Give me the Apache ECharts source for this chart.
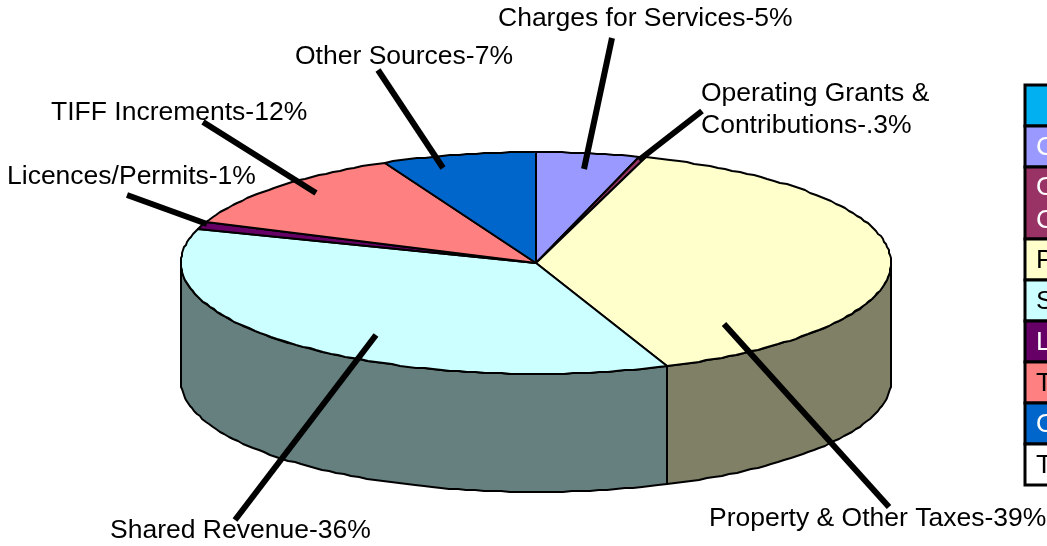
<!DOCTYPE html>
<html>
<head>
<meta charset="utf-8">
<style>
  html, body { margin: 0; background: #fff; overflow: hidden; }
  #chart { width: 1047px; height: 546px; }
</style>
<script src="https://cdn.jsdelivr.net/npm/echarts@6/dist/echarts.min.js"></script>
</head>
<body>
<div id="chart"></div>
<script>
// slices clockwise from 12 o'clock
const categories = ['Charges for Services', 'Operating Grants & Contributions', 'Property & Other Taxes', 'Shared Revenue', 'Licences/Permits', 'TIFF Increments', 'Other Sources']
const shares = [4.7, 0.3, 39, 36, 1, 12, 7]
const percentLabels = ['5%', '.3%', '39%', '36%', '1%', '12%', '7%']
const topColors = ['#9999ff', '#993366', '#ffffcc', '#ccffff', '#660066', '#ff8080', '#0066cc']
const sideColors = ['#4d4d80', '#4d1a33', '#808066', '#668080', '#330033', '#804040', '#003366']
const legendTextColors = ['#fff', '#fff', '#000', '#000', '#fff', '#000', '#fff']

// pie geometry
const cx = 536
const cy = 263
const rx = 355
const ry = 111
const depth = 118

const font = '"Liberation Sans", Arial, sans-serif'
const fontSize = 26.5

// rows of the cumulative table the series read from
let running = 0
const sliceRows = shares.map((v, i) => {
  const row = [running, running + v, i]
  running += v
  return row
})
const total = running

const toAngle = v => (v / total) * Math.PI * 2
const rim = (a, dy) => [
  Math.round(cx + rx * Math.sin(a)),
  Math.round(cy - ry * Math.cos(a) + (dy || 0))
]
const arcPoints = (a0, a1, dy) => {
  const pts = []
  const n = Math.max(1, Math.ceil((a1 - a0) / 0.025))
  for (let i = 0; i <= n; i++) pts.push(rim(a0 + ((a1 - a0) * i) / n, dy))
  return pts
}

const renderTop = (params, api) => {
  const i = api.value(2)
  const pts = [[cx, cy]].concat(arcPoints(toAngle(api.value(0)), toAngle(api.value(1))))
  return {
    type: 'polygon',
    shape: { points: pts },
    style: { fill: topColors[i], stroke: '#000', lineWidth: 2, lineJoin: 'round' }
  }
}

const renderSide = (params, api) => {
  const i = api.value(2)
  // only the front half of the wall shows
  const a0 = Math.max(toAngle(api.value(0)), Math.PI / 2)
  const a1 = Math.min(toAngle(api.value(1)), Math.PI * 1.5)
  if (a1 <= a0) return null
  const pts = arcPoints(a0, a1).concat(arcPoints(a0, a1, depth).reverse())
  return {
    type: 'polygon',
    shape: { points: pts },
    style: { fill: sideColors[i], stroke: '#000', lineWidth: 2, lineJoin: 'round' }
  }
}

// label text and leader placement, in slice order
const labelLayout = [
  { lines: [categories[0] + '-' + percentLabels[0]], x: 498, y: 19, from: [612, 38], to: [584, 169] },
  { lines: ['Operating Grants &', 'Contributions-' + percentLabels[1]], x: 701, y: 94, from: [702, 111], to: [639, 160] },
  { lines: [categories[2] + '-' + percentLabels[2]], x: 709, y: 519, from: [889, 507], to: [724, 324] },
  { lines: [categories[3] + '-' + percentLabels[3]], x: 110, y: 531, from: [235, 520], to: [376, 335] },
  { lines: [categories[4] + '-' + percentLabels[4]], x: 7, y: 177, from: [127, 195], to: [207, 224] },
  { lines: [categories[5] + '-' + percentLabels[5]], x: 51, y: 113, from: [203, 122], to: [316, 193] },
  { lines: [categories[6] + '-' + percentLabels[6]], x: 295, y: 57, from: [378, 70], to: [443, 168] }
]

const textEl = (text, x, y, fill) => ({
  type: 'text',
  z: 20,
  silent: true,
  style: { text, x, y, fill: fill || '#000', font: fontSize + 'px ' + font, textAlign: 'left', textVerticalAlign: 'middle' }
})

const graphics = []
labelLayout.forEach(l => {
  graphics.push({
    type: 'line',
    z: 10,
    silent: true,
    shape: { x1: l.from[0], y1: l.from[1], x2: l.to[0], y2: l.to[1] },
    style: { stroke: '#000', lineWidth: 6 }
  })
  l.lines.forEach((t, k) => graphics.push(textEl(t, l.x, l.y + k * 32)))
})

// legend table down the right edge, cut off by the page
const legendLeft = 1025
let rowTop = 85
const addLegendRow = (h, fill, lines, color) => {
  graphics.push({
    type: 'rect',
    z: 5,
    silent: true,
    shape: { x: legendLeft, y: rowTop, width: 60, height: h },
    style: { fill, stroke: '#000', lineWidth: 3 }
  })
  lines.forEach((t, k) => {
    const y = rowTop + h / 2 + 1 + (k - (lines.length - 1) / 2) * 33
    graphics.push(textEl(t, 1036, y, color))
  })
  rowTop += h
}
addLegendRow(41, '#00b0f0', [], '#fff')
categories.forEach((c, i) => {
  const lines = i === 1 ? ['Operating Grants &', 'Contributions'] : [c]
  addLegendRow(i === 1 ? 72 : 41, topColors[i], lines, legendTextColors[i])
})
addLegendRow(41, '#ffffff', ['Total'], '#000')

const chart = echarts.init(document.getElementById('chart'), null, { renderer: 'canvas' })
chart.setOption({
  animation: false,
  backgroundColor: '#fff',
  dataset: { source: sliceRows },
  graphic: { elements: graphics },
  series: [
    { type: 'custom', coordinateSystem: 'none', z: 1, silent: true, renderItem: renderSide, encode: { tooltip: 0 } },
    { type: 'custom', coordinateSystem: 'none', z: 2, silent: true, renderItem: renderTop, encode: { tooltip: 0 } }
  ]
})
window.addEventListener('resize', () => chart.resize())
</script>
</body>
</html>
